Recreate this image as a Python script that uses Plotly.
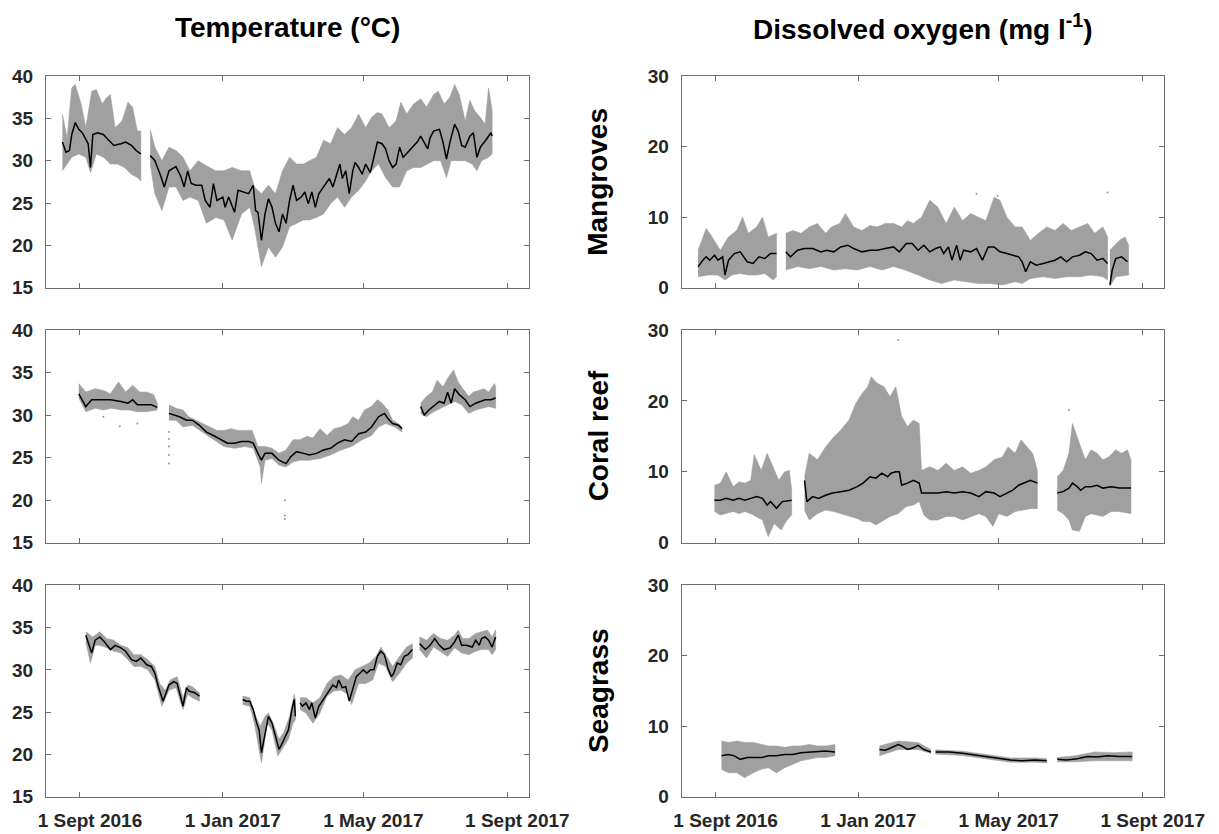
import pandas as pd
import plotly.graph_objects as go

# ---------------- data (day offsets from 1 Sept 2016; None = gap) ----------------
# Mangroves - temperature
mt_mean_day = [-15, -12, -9, -7, -4, -1, 2, 5, 7, 9, 11, 15, 20, 24, 29, 35, 39, 44, 48, 52, None,
               60, 64, 69, 72, 76, 82, 86, 89, 92, 95, 99, 104, 107, 111, 114, 117, 122, 124, 127, 132, 135,
               139, 144, 148, 150, 152, 155, 158, 161, 164, 167, 170, 173, 176, 179, 182, 185, 189, 192, 195,
               198, 201, 204, 208, 213, 216, 219, 222, 224, 227, 230, 233, 235, 238, 241, 244, 248, 251, 254,
               258, 261, 264, 267, 270, 273, 276, 280, 285, 288, 291, 294, 297, 299, 302, 307, 310, 313, 316,
               320, 323, 326, 329, 333, 336, 339, 342, 347, 351, 352]
mt_mean = [32.2, 31.0, 31.2, 33.1, 34.5, 33.7, 33.3, 32.4, 32.0, 29.2, 33.1, 33.3, 33.1, 32.5, 31.8, 32.0, 32.2, 31.8, 31.2, 30.8, None,
           30.6, 30.0, 28.2, 26.9, 28.8, 29.3, 28.2, 26.9, 28.8, 27.3, 27.1, 27.1, 25.3, 24.5, 27.3, 25.3, 25.7, 24.5, 25.7, 23.9, 26.5,
           26.3, 26.1, 27.1, 24.1, 23.9, 20.6, 23.7, 25.5, 24.5, 22.6, 21.6, 23.7, 22.6, 25.3, 27.1, 25.3, 25.7, 26.3, 24.9,
           26.3, 24.5, 26.1, 26.9, 27.9, 26.9, 28.4, 29.6, 27.9, 28.8, 26.1, 28.8, 29.8, 29.2, 28.4, 29.6, 28.6, 30.4, 32.2,
           32.0, 31.4, 30.0, 29.2, 29.6, 31.6, 30.4, 31.0, 31.8, 32.2, 32.9, 32.2, 31.4, 32.7, 33.5, 33.7, 32.2, 30.2, 32.2,
           34.3, 33.5, 31.8, 31.6, 32.9, 33.3, 30.4, 31.6, 32.5, 33.3, 32.9]
mt_hi_day = [-15, -11, -7, -4, 1, 5, 10, 14, 19, 23, 26, 30, 36, 41, 45, 49, 52, None,
             60, 64, 70, 76, 82, 88, 94, 101, 108, 116, 123, 130, 138, 145, 149, 155, 161, 167, 173, 179, 185,
             191, 196, 202, 208, 214, 220, 226, 232, 238, 244, 249, 254, 258, 264, 270, 274, 279, 285, 291, 296,
             302, 306, 311, 316, 320, 324, 329, 333, 337, 342, 346, 349, 352]
mt_hi = [35.5, 32.7, 38.6, 39.0, 36.7, 33.9, 38.2, 38.4, 36.7, 37.5, 37.8, 33.9, 34.7, 36.9, 36.3, 33.5, 33.5, None,
         33.7, 31.6, 30.0, 31.6, 31.2, 30.4, 28.8, 30.0, 29.4, 28.8, 28.8, 29.2, 28.8, 28.8, 26.9, 26.1, 27.1, 26.1, 28.8, 30.4, 29.6,
         29.6, 30.0, 30.4, 32.4, 32.0, 33.9, 33.1, 33.9, 35.5, 33.9, 35.1, 35.7, 35.5, 33.9, 34.7, 36.9, 35.5, 36.7, 37.3, 36.3,
         37.8, 38.2, 36.7, 37.5, 39.0, 37.8, 34.7, 37.1, 35.9, 35.1, 34.3, 38.6, 35.9]
mt_lo_day = [-15, -11, -7, -1, 5, 9, 14, 20, 26, 32, 38, 44, 49, 52, None,
             60, 64, 70, 76, 82, 88, 94, 101, 108, 116, 123, 130, 138, 145, 149, 155, 161, 167, 173, 179, 185,
             191, 196, 202, 208, 214, 220, 226, 232, 238, 244, 249, 255, 261, 267, 273, 279, 285, 291, 297, 302,
             308, 313, 317, 323, 329, 335, 339, 343, 349, 352]
mt_lo = [28.8, 29.6, 30.4, 30.8, 30.4, 28.6, 30.8, 30.4, 29.6, 29.6, 29.2, 28.4, 28.0, 27.6, None,
         29.6, 26.1, 24.1, 26.9, 26.9, 25.3, 25.7, 25.3, 22.6, 23.3, 23.0, 20.6, 23.7, 24.5, 22.2, 17.5, 19.8, 18.6, 19.8, 22.2, 22.6,
         23.0, 23.0, 23.3, 23.7, 24.9, 25.7, 24.5, 25.7, 26.5, 27.6, 28.8, 29.6, 28.0, 26.9, 26.9, 28.8, 29.2, 29.2, 29.6, 30.0,
         30.0, 28.0, 30.0, 30.0, 30.0, 29.6, 28.8, 30.0, 30.4, 30.8]

# Mangroves - dissolved oxygen
mo_mean_day = [-15, -11, -8, -5, -1, 2, 6, 8, 11, 16, 21, 27, 32, 37, 42, 47, 52, None,
               60, 64, 70, 76, 83, 90, 95, 101, 107, 113, 118, 125, 132, 138, 145, 152, 157, 163, 168, 173, 178,
               183, 188, 192, 195, 199, 202, 206, 209, 212, 218, 223, 228, 233, 238, 243, 249, 254, 259, 262, 265,
               269, 274, 280, 285, 290, 295, 300, 305, 311, 316, 321, 326, 331, 335, None,
               337, 339, 342, 347, 352]
mo_mean = [2.96, 3.9, 4.37, 3.9, 4.6, 3.9, 4.37, 1.8, 3.9, 4.84, 5.08, 3.67, 3.43, 4.37, 4.14, 4.84, 4.84, None,
           5.08, 4.37, 5.31, 5.55, 5.55, 5.08, 5.31, 5.08, 5.78, 6.02, 5.55, 5.08, 5.31, 5.31, 5.55, 5.78, 5.08, 6.25, 6.25, 5.31, 6.02,
           5.08, 5.55, 5.78, 4.84, 5.78, 3.9, 6.02, 3.9, 5.31, 5.08, 5.55, 3.9, 5.78, 5.78, 5.08, 4.84, 4.6, 4.37, 3.67, 2.26,
           3.67, 3.2, 3.43, 3.67, 3.9, 4.37, 3.67, 4.37, 4.6, 5.08, 4.84, 3.9, 4.14, 3.43, None,
           0.4, 2.5, 4.14, 4.37, 3.67]
mo_hi_day = [-15, -8, -3, 4, 11, 18, 23, 28, 35, 40, 45, 52, None,
             60, 66, 73, 80, 87, 94, 99, 106, 111, 118, 125, 132, 138, 145, 152, 159, 164, 169, 176, 183, 190,
             197, 204, 211, 218, 225, 231, 238, 243, 249, 256, 262, 269, 276, 283, 290, 297, 304, 311, 318, 324,
             331, 335, None, 337, 345, 350, 353]
mo_hi = [5.3, 8.4, 7.2, 5.3, 7.2, 8.1, 10.0, 7.7, 8.6, 10.0, 7.2, 7.7, None,
         7.7, 8.1, 7.7, 8.6, 9.1, 7.7, 8.6, 9.1, 10.5, 8.6, 8.1, 8.8, 8.6, 9.1, 9.1, 8.6, 9.5, 9.1, 10.0, 12.4, 11.4,
         9.1, 11.4, 9.5, 10.5, 10.0, 9.5, 12.8, 12.4, 10.0, 8.6, 8.6, 6.7, 7.7, 8.6, 8.1, 9.1, 8.1, 8.6, 9.1, 7.7,
         8.6, 7.2, None, 5.3, 6.7, 7.2, 6.0]
mo_lo_day = [-15, -6, 2, 8, 14, 21, 28, 35, 42, 49, 52, None,
             60, 70, 80, 90, 101, 111, 121, 132, 142, 152, 162, 173, 183, 193, 204, 214, 225, 235, 245, 256,
             262, 269, 280, 290, 300, 311, 321, 331, 335, None, 337, 342, 353]
mo_lo = [1.55, 1.8, 1.8, 1.1, 1.8, 2.0, 1.8, 1.8, 2.0, 1.1, 1.55, None,
         2.5, 3.0, 2.7, 3.0, 2.5, 2.7, 2.5, 3.0, 2.5, 3.0, 2.5, 1.8, 1.1, 0.6, 1.1, 0.85, 0.6, 0.6, 0.4, 0.85,
         0.6, 1.3, 1.55, 1.3, 1.55, 1.55, 1.8, 1.55, 1.1, None, 0.2, 1.55, 1.8]
mo_out_day = [223, 241, 335]
mo_out = [13.3, 13.0, 13.5]

# Coral reef - temperature
ct_mean_day = [-1, 2, 5, 10, 17, 26, 35, 41, 45, 49, 55, 61, 66, None,
               76, 80, 85, 91, 96, 102, 108, 114, 120, 126, 132, 138, 144, 148, 152, 155, 158, 164, 170, 176, 180,
               185, 191, 196, 202, 208, 214, 220, 226, 232, 238, 244, 249, 255, 260, 263, 267, 272, 275, None,
               291, 294, 298, 302, 307, 311, 314, 317, 320, 324, 329, 333, 338, 342, 346, 351, 355]
ct_mean = [32.5, 31.8, 31.0, 31.8, 31.8, 31.8, 31.6, 31.4, 31.8, 31.2, 31.2, 31.2, 30.9, None,
           30.2, 30.0, 29.8, 29.4, 29.4, 28.8, 28.0, 27.6, 27.1, 26.7, 26.7, 26.9, 26.9, 26.7, 25.5, 24.7, 25.5, 25.5, 24.7, 24.3, 25.1,
           25.7, 25.5, 25.3, 25.5, 25.9, 26.1, 26.7, 27.1, 26.9, 27.8, 28.0, 28.6, 29.8, 30.2, 29.6, 29.0, 28.8, 28.4, None,
           31.0, 30.0, 30.6, 31.0, 31.6, 31.4, 32.7, 31.4, 33.1, 32.4, 31.8, 31.0, 31.4, 31.6, 31.8, 31.8, 32.0]
ct_hi_day = [-1, 5, 13, 20, 26, 33, 39, 45, 51, 57, 63, 66, None,
             76, 82, 88, 93, 99, 105, 111, 117, 123, 129, 135, 141, 147, 152, 158, 164, 170, 176, 182, 188, 194,
             199, 205, 211, 217, 223, 229, 233, 238, 243, 249, 254, 258, 263, 267, 272, 275, None,
             291, 296, 301, 305, 310, 314, 319, 323, 327, 332, 336, 340, 345, 349, 354, 355]
ct_hi = [33.7, 32.7, 33.1, 32.9, 32.5, 33.9, 32.7, 33.5, 32.7, 32.7, 32.4, 31.4, None,
         31.2, 30.8, 30.6, 29.8, 29.4, 29.0, 28.6, 28.2, 28.2, 28.4, 28.2, 28.2, 28.2, 26.3, 26.3, 26.1, 25.5, 25.9, 27.1, 27.1, 27.5,
         27.3, 28.4, 27.6, 28.4, 28.6, 29.0, 29.8, 29.4, 30.6, 31.0, 31.8, 31.4, 30.6, 29.4, 29.0, 28.6, None,
         31.4, 32.2, 32.7, 34.1, 33.3, 34.3, 35.3, 33.9, 33.1, 32.2, 32.7, 32.9, 33.1, 32.7, 33.7, 33.3]
ct_lo_day = [-1, 5, 13, 20, 27, 35, 42, 49, 57, 66, None,
             76, 82, 88, 96, 105, 114, 123, 132, 141, 148, 154, 155, 158, 164, 170, 176, 182, 188, 196, 205,
             214, 223, 232, 241, 249, 255, 261, 269, 275, None,
             291, 296, 302, 308, 314, 320, 326, 332, 338, 343, 349, 355]
ct_lo = [32.0, 30.4, 30.8, 30.6, 30.8, 30.6, 30.6, 30.4, 30.4, 30.6, None,
         29.4, 29.4, 28.6, 28.8, 28.0, 27.1, 26.3, 26.1, 26.3, 26.1, 23.9, 22.0, 24.7, 24.9, 24.1, 23.9, 24.5, 24.7, 24.7, 24.9,
         25.3, 25.9, 26.3, 27.1, 27.6, 28.6, 29.0, 28.6, 28.0, None,
         30.2, 29.8, 30.4, 30.8, 31.2, 31.6, 31.2, 30.2, 30.6, 30.8, 31.0, 30.8]
ct_out_day = [20, 34, 49, 76, 76, 76, 76, 76, 175, 175, 175]
ct_out = [29.8, 28.7, 29.0, 24.3, 25.3, 26.3, 27.2, 28.0, 20.0, 18.2, 17.8]

# Coral reef - dissolved oxygen
co_mean_day = [-1, 4, 9, 15, 20, 25, 30, 35, 40, 44, 47, 52, 57, 63, 65, None,
               76, 78, 83, 88, 94, 100, 107, 114, 121, 126, 132, 137, 142, 147, 150, 154, 157, 159, 164, 169, 174,
               176, 183, 190, 197, 204, 211, 218, 225, 231, 238, 243, 249, 254, 259, 264, 269, 275, None,
               292, 297, 302, 305, 309, 312, 316, 321, 326, 331, 338, 345, 350, 355]
co_mean = [6.0, 6.0, 6.25, 6.0, 6.25, 6.0, 6.25, 6.5, 6.25, 5.3, 5.8, 4.85, 5.8, 6.0, 6.0, None,
           8.8, 5.8, 6.5, 6.25, 6.7, 7.0, 7.2, 7.4, 7.9, 8.4, 9.3, 9.1, 9.8, 9.3, 9.8, 10.0, 10.0, 8.1, 8.4, 8.8, 8.4,
           7.0, 7.0, 7.0, 7.2, 7.0, 7.2, 7.0, 6.5, 7.2, 7.0, 6.5, 7.0, 7.4, 8.1, 8.4, 8.8, 8.4, None,
           7.0, 7.2, 7.7, 8.4, 7.9, 7.4, 7.9, 7.9, 8.1, 7.7, 7.9, 7.7, 7.7, 7.7]
co_hi_day = [-1, 4, 9, 15, 20, 25, 30, 33, 39, 44, 49, 54, 59, 63, 65, None,
             76, 80, 87, 94, 101, 107, 114, 120, 125, 130, 133, 138, 144, 149, 154, 159, 164, 169, 174, 176,
             183, 190, 197, 204, 211, 218, 225, 231, 238, 245, 250, 256, 261, 266, 271, 275, None,
             292, 297, 302, 305, 311, 316, 321, 326, 331, 336, 342, 347, 352, 355]
co_hi = [8.1, 8.4, 10.0, 7.9, 8.6, 8.4, 8.8, 12.4, 10.2, 12.6, 10.7, 8.8, 10.0, 10.2, 7.4, None,
         9.3, 12.6, 11.7, 13.5, 14.9, 15.9, 17.3, 19.7, 21.0, 22.0, 23.4, 22.5, 22.0, 20.6, 22.0, 17.8, 16.4, 17.3, 16.8, 10.2,
         10.7, 10.2, 11.2, 10.2, 10.7, 9.8, 10.2, 10.7, 11.7, 12.1, 13.5, 12.6, 14.5, 13.5, 12.6, 10.2, None,
         9.3, 10.2, 12.6, 16.8, 14.0, 11.7, 13.1, 12.6, 11.7, 12.1, 13.1, 12.6, 13.1, 11.7]
co_lo_day = [-1, 4, 9, 15, 20, 25, 30, 35, 40, 45, 50, 56, 61, 65, None,
             76, 80, 87, 94, 101, 107, 114, 121, 126, 132, 137, 142, 149, 156, 163, 169, 174, 178, 183, 190,
             197, 204, 211, 218, 225, 231, 237, 242, 249, 256, 262, 269, 275, None,
             292, 297, 302, 305, 311, 316, 321, 326, 331, 338, 345, 355]
co_lo = [4.4, 3.9, 4.1, 4.4, 4.1, 4.4, 4.1, 3.7, 3.2, 0.85, 2.7, 1.8, 3.2, 3.9, None,
         4.6, 3.2, 4.1, 4.6, 4.4, 4.1, 3.7, 3.4, 3.0, 3.0, 2.5, 3.0, 3.7, 4.1, 5.1, 5.3, 5.8, 3.9, 3.2, 3.2,
         3.7, 3.7, 3.2, 3.7, 4.1, 3.7, 2.3, 4.1, 3.7, 4.4, 4.6, 4.8, 4.8, None,
         4.6, 4.1, 3.2, 1.8, 1.6, 3.7, 4.1, 3.9, 3.7, 4.4, 4.4, 4.1]
co_out_day = [156, 302]
co_out = [28.6, 18.7]

# Seagrass - temperature
st_mean_day = [5, 8, 10, 13, 17, 21, 26, 30, 35, 39, 44, 48, 52, 57, 61, 64, 67, 71, 76, 80, 83, 88, 91, 93, 98, 102, None,
               139, 142, 145, 148, 151, 153, 155, 158, 161, 164, 167, 170, 173, 176, 178, 181, 183, 184, None,
               188, 190, 193, 196, 198, 201, 204, 208, 213, 216, 219, 221, 224, 227, 230, 233, 236, 239, 242, 245,
               248, 251, 254, 257, 260, 263, 266, 268, 271, 274, 277, 280, 284, None,
               290, 295, 299, 303, 307, 311, 316, 320, 323, 326, 330, 335, 338, 341, 343, 346, 349, 352, 355]
st_mean = [34.1, 32.7, 32.0, 33.5, 33.9, 33.3, 32.4, 32.9, 32.6, 32.2, 31.2, 31.0, 31.4, 30.6, 30.4, 29.6, 28.0, 26.3, 28.2, 28.6, 28.4, 25.7, 27.9, 27.5, 27.3, 26.9, None,
           26.5, 26.3, 26.3, 25.3, 23.7, 22.9, 20.2, 22.6, 24.5, 23.7, 22.2, 20.6, 21.4, 22.2, 22.9, 25.3, 26.5, 24.5, None,
           26.1, 25.7, 26.1, 25.3, 26.1, 24.3, 25.7, 26.5, 27.6, 28.2, 27.9, 28.8, 27.9, 28.0, 26.3, 27.9, 29.2, 29.6, 30.0, 29.6,
           30.0, 30.0, 31.6, 32.2, 31.8, 30.2, 29.2, 29.6, 30.8, 30.6, 31.6, 31.8, 32.4, None,
           33.1, 32.4, 32.9, 33.7, 32.9, 32.4, 32.6, 33.3, 34.1, 32.9, 32.9, 32.7, 33.5, 32.9, 33.7, 33.9, 33.5, 32.7, 33.9]
st_hi_day = [5, 11, 17, 23, 29, 35, 41, 46, 52, 58, 64, 68, 73, 77, 83, 88, 92, 96, 102, None,
             139, 145, 149, 154, 158, 161, 165, 170, 174, 179, 183, 184, None,
             188, 193, 199, 205, 211, 217, 223, 229, 235, 241, 247, 253, 257, 261, 267, 273, 279, 284, None,
             290, 296, 302, 308, 314, 320, 323, 327, 332, 338, 343, 348, 352, 355]
st_hi = [34.5, 33.9, 34.5, 33.7, 33.5, 32.9, 32.6, 31.8, 31.8, 31.2, 30.4, 28.4, 27.6, 28.8, 29.2, 26.7, 28.2, 28.0, 27.3, None,
         26.9, 26.7, 24.9, 23.3, 24.5, 24.9, 23.7, 21.8, 22.6, 24.5, 27.1, 26.5, None,
         26.7, 26.7, 26.1, 26.7, 28.4, 29.2, 29.4, 28.8, 30.0, 30.4, 30.8, 31.6, 32.7, 31.8, 30.4, 31.6, 32.7, 33.1, None,
         33.9, 33.5, 34.3, 33.7, 33.5, 34.1, 34.7, 33.7, 33.7, 34.3, 34.5, 34.7, 33.9, 34.7]
st_lo_day = [5, 9, 13, 17, 23, 29, 35, 41, 46, 52, 58, 64, 70, 76, 82, 88, 92, 96, 102, None,
             139, 145, 149, 155, 160, 164, 169, 173, 178, 182, 184, None,
             188, 193, 199, 205, 211, 217, 223, 229, 232, 238, 244, 250, 255, 261, 267, 273, 279, 284, None,
             290, 296, 302, 308, 314, 320, 326, 332, 338, 343, 349, 352, 355]
st_lo = [33.3, 30.8, 32.9, 32.9, 32.6, 32.2, 32.0, 31.2, 30.4, 30.4, 30.0, 28.8, 25.7, 27.6, 27.9, 25.3, 27.1, 26.7, 26.3, None,
         25.9, 25.7, 23.7, 19.0, 23.7, 22.9, 19.8, 20.6, 21.8, 23.7, 24.1, None,
         25.3, 24.9, 23.7, 24.9, 26.9, 27.5, 27.6, 27.1, 25.9, 28.4, 28.4, 28.8, 30.8, 30.4, 28.6, 29.6, 30.8, 31.4, None,
         32.4, 31.4, 32.7, 32.2, 31.6, 32.6, 32.0, 31.8, 32.2, 32.4, 32.4, 31.8, 32.4]

# Seagrass - dissolved oxygen
so_mean_day = [5, 11, 16, 21, 27, 32, 39, 45, 52, 59, 66, 73, 80, 87, 94, 102, None,
               140, 145, 150, 156, 159, 164, 169, 173, 178, 184, None,
               188, 200, 211, 221, 231, 242, 252, 262, 273, 283, None,
               292, 300, 309, 318, 326, 335, 345, 356]
so_mean = [5.8, 6.0, 5.8, 5.3, 5.55, 5.55, 5.55, 5.8, 5.8, 6.0, 6.0, 6.25, 6.35, 6.5, 6.5, 6.35, None,
           6.7, 6.6, 6.95, 7.4, 7.2, 6.7, 6.95, 7.3, 6.7, 6.35, None,
           6.35, 6.35, 6.15, 5.9, 5.7, 5.45, 5.2, 5.1, 5.2, 5.1, None,
           5.3, 5.2, 5.4, 5.7, 5.65, 5.8, 5.7, 5.7]
so_hi_day = [5, 11, 18, 25, 32, 39, 45, 52, 59, 66, 73, 80, 87, 94, 102, None,
             140, 156, 173, 184, None,
             188, 211, 231, 252, 273, 283, None,
             292, 307, 324, 341, 356]
so_hi = [7.9, 7.7, 7.9, 7.7, 7.7, 7.4, 7.2, 7.2, 7.0, 7.2, 7.2, 7.4, 7.2, 7.2, 7.4, None,
         7.2, 7.9, 7.7, 6.7, None,
         6.65, 6.45, 6.0, 5.5, 5.5, 5.4, None,
         5.55, 5.8, 6.35, 6.25, 6.35]
so_lo_day = [5, 11, 18, 25, 32, 39, 45, 52, 59, 66, 73, 80, 87, 94, 102, None,
             140, 156, 173, 184, None,
             188, 211, 231, 252, 273, 283, None,
             292, 307, 324, 341, 356]
so_lo = [3.9, 3.4, 3.4, 2.7, 3.4, 3.9, 4.1, 3.4, 4.1, 4.6, 5.1, 5.3, 5.55, 5.55, 5.8, None,
         5.8, 6.7, 6.7, 6.15, None,
         6.05, 5.85, 5.4, 4.9, 4.9, 4.8, None,
         4.95, 4.95, 5.1, 5.1, 5.1]

col_titles = ["Temperature (°C)", "Dissolved oxygen (mg l<sup>-1</sup>)"]
row_labels = ["Mangroves", "Coral reef", "Seagrass"]
x_tick_dates = ["2016-09-01", "2017-01-01", "2017-05-01", "2017-09-01"]
x_tick_text = ["1 Sept 2016", "1 Jan 2017", "1 May 2017", "1 Sept 2017"]
temp_ticks = [15, 20, 25, 30, 35, 40]
do_ticks = [0, 10, 20, 30]

# ---------------- helpers ----------------
BASE = pd.Timestamp("2016-09-01")


def to_dates(days):
    return [None if d is None else BASE + pd.Timedelta(days=d) for d in days]


def split(seq):
    segs, cur = [], []
    for v in seq:
        if v is None:
            segs.append(cur)
            cur = []
        else:
            cur.append(v)
    segs.append(cur)
    return segs


def band(hi_day, hi, lo_day, lo):
    xs, ys = [], []
    for hd, hv, ld, lv in zip(split(hi_day), split(hi), split(lo_day), split(lo)):
        xs += to_dates(hd) + to_dates(ld[::-1]) + [None]
        ys += hv + lv[::-1] + [None]
    return xs, ys


panels = [
    (mt_mean_day, mt_mean, mt_hi_day, mt_hi, mt_lo_day, mt_lo, None, None),
    (mo_mean_day, mo_mean, mo_hi_day, mo_hi, mo_lo_day, mo_lo, mo_out_day, mo_out),
    (ct_mean_day, ct_mean, ct_hi_day, ct_hi, ct_lo_day, ct_lo, ct_out_day, ct_out),
    (co_mean_day, co_mean, co_hi_day, co_hi, co_lo_day, co_lo, co_out_day, co_out),
    (st_mean_day, st_mean, st_hi_day, st_hi, st_lo_day, st_lo, None, None),
    (so_mean_day, so_mean, so_hi_day, so_hi, so_lo_day, so_lo, None, None),
]

# page is offset by the default 8px body margin -> figure covers page pixels [8, 1219] x [8, 834]
OFF = 8
W, H = 1219 - OFF, 834 - OFF


def fx(px):
    return (px - OFF) / W


def fy(py):
    return 1 - (py - OFF) / H


xdom_left = [fx(46), fx(529)]
xdom_right = [fx(681.7), fx(1164.3)]
ydoms = [[fy(287.7), fy(76)], [fy(542.7), fy(330)], [fy(796.7), fy(585.3)]]

BAND = "rgb(160,160,160)"
AXC = "rgb(110,110,110)"
TICKC = "rgb(38,38,38)"
FONT = "Liberation Sans, Arial, sans-serif"

fig = go.Figure()
layout = {}
for i, (md, mv, hd, hv, ld, lv, od, ov) in enumerate(panels):
    n = i + 1
    xa = "x" if n == 1 else f"x{n}"
    ya = "y" if n == 1 else f"y{n}"
    bx, by = band(hd, hv, ld, lv)
    fig.add_trace(go.Scatter(x=bx, y=by, xaxis=xa, yaxis=ya, mode="lines", fill="toself",
                             fillcolor=BAND, line=dict(color=BAND, width=0.6), hoverinfo="skip"))
    if od is not None:
        fig.add_trace(go.Scatter(x=to_dates(od), y=ov, xaxis=xa, yaxis=ya, mode="markers",
                                 marker=dict(color="rgb(150,150,150)", size=2)))
    fig.add_trace(go.Scatter(x=to_dates(md), y=mv, xaxis=xa, yaxis=ya, mode="lines",
                             line=dict(color="black", width=1.5)))

    row, col = i // 2, i % 2
    xkey = "xaxis" if n == 1 else f"xaxis{n}"
    ykey = "yaxis" if n == 1 else f"yaxis{n}"
    layout[xkey] = dict(
        domain=xdom_left if col == 0 else xdom_right, anchor=ya,
        range=["2016-08-03", "2017-09-19 12:00"], type="date",
        tickvals=x_tick_dates, ticktext=x_tick_text, showticklabels=(row == 2),
        ticks="inside", ticklen=5, tickcolor=AXC, tickwidth=1,
        showline=True, linecolor=AXC, linewidth=1, mirror="allticks",
        showgrid=False, zeroline=False, automargin=False,
        tickfont=dict(family=FONT, size=19, color=TICKC, weight="bold"),
        ticklabelshift=10, ticklabelstandoff=6,
    )
    layout[ykey] = dict(
        domain=ydoms[row], anchor=xa,
        range=[15, 40] if col == 0 else [0, 30],
        tickvals=temp_ticks if col == 0 else do_ticks,
        ticks="inside", ticklen=5, tickcolor=AXC, tickwidth=1,
        showline=True, linecolor=AXC, linewidth=1, mirror="allticks",
        showgrid=False, zeroline=False, automargin=False,
        tickfont=dict(family=FONT, size=19, color=TICKC, weight="bold"),
        ticklabelstandoff=8,
    )

annotations = []
for j, t in enumerate(col_titles):
    dom = xdom_left if j == 0 else xdom_right
    annotations.append(dict(text=t, x=(dom[0] + dom[1]) / 2, y=fy(27), xref="paper", yref="paper",
                            xanchor="center", yanchor="middle", showarrow=False,
                            font=dict(family=FONT, size=28, color="black", weight="bold")))
for r, t in enumerate(row_labels):
    annotations.append(dict(text=t, x=fx(598), y=(ydoms[r][0] + ydoms[r][1]) / 2, xref="paper", yref="paper",
                            xanchor="center", yanchor="middle", showarrow=False, textangle=-90,
                            font=dict(family=FONT, size=28, color="black", weight="bold")))

fig.update_layout(
    width=W, height=H, margin=dict(l=0, r=0, t=0, b=0, pad=0, autoexpand=False),
    paper_bgcolor="white", plot_bgcolor="white", showlegend=False,
    annotations=annotations, **layout,
)
fig.write_html("out.html")
